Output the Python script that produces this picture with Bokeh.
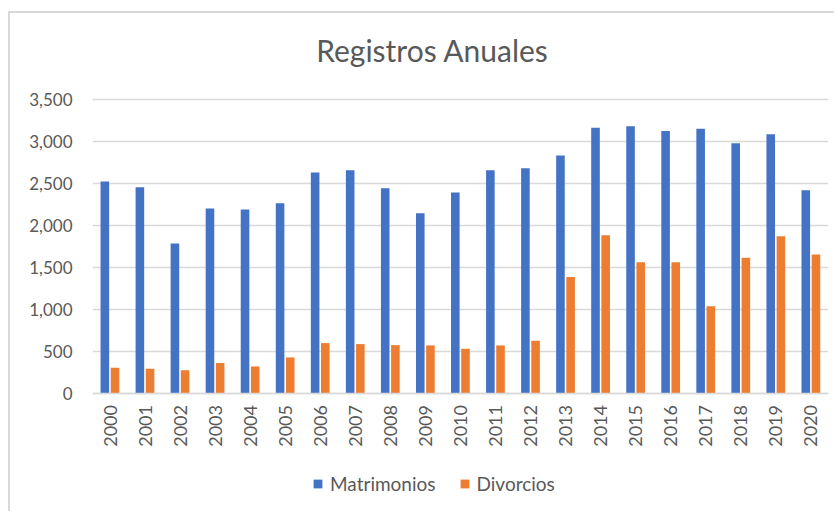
from bokeh.plotting import figure
from bokeh.models import (ColumnDataSource, FactorRange, Range1d, FixedTicker, CategoricalAxis,
                          NumeralTickFormatter, Legend, LegendItem, Label)
from bokeh.transform import dodge
from bokeh.embed import file_html
from bokeh.resources import INLINE
import math

years = [str(y) for y in range(2000, 2021)]
matrimonios = [2522, 2454, 1784, 2201, 2189, 2264, 2629, 2657, 2443, 2145, 2391,
               2657, 2680, 2831, 3164, 3180, 3124, 3152, 2978, 3085, 2419]
divorcios = [301, 289, 272, 357, 317, 424, 595, 583, 571, 568, 527,
             567, 623, 1384, 1880, 1558, 1558, 1035, 1614, 1868, 1653]
yticks = [0, 500, 1000, 1500, 2000, 2500, 3000, 3500]
series_names = ["Matrimonios", "Divorcios"]
title_text = "Registros Anuales"

BLUE = "#4472C4"
ORANGE = "#ED7D31"
GRID = "#D9D9D9"
TEXT = "#595959"
FONT = "Lato"

# geometry (pixels): the frame fills the whole height; 0..3500 spans 293.5 px
W, H = 826, 500
ABOVE_PX = 86          # space between frame top and the 3,500 gridline
VALUE_PX = 293.5
top_val = yticks[-1]
units_per_px = top_val / VALUE_PX
ymax = top_val + ABOVE_PX * units_per_px
ymin = top_val - (H - ABOVE_PX) * units_per_px

src = ColumnDataSource(dict(year=years, matrimonios=matrimonios, divorcios=divorcios))

p = figure(width=W, height=H, x_range=FactorRange(*years), y_range=Range1d(ymin, ymax),
           output_backend="svg", toolbar_location=None, x_axis_location=None,
           min_border_left=82, min_border_right=8, min_border_top=0, min_border_bottom=0)
p.styles = {"margin-left": "8px", "margin-top": "11px",
            "border-left": "2px solid #D9D9D9", "border-top": "2px solid #D9D9D9"}
p.outline_line_color = None
p.background_fill_color = "white"
p.border_fill_color = "white"

r1 = p.vbar(x=dodge("year", -0.148, range=p.x_range), top="matrimonios", width=0.245,
            source=src, fill_color=BLUE, line_color=None)
r2 = p.vbar(x=dodge("year", 0.142, range=p.x_range), top="divorcios", width=0.245,
            source=src, fill_color=ORANGE, line_color=None)

p.xgrid.grid_line_color = None
p.ygrid.grid_line_color = GRID
p.ygrid.grid_line_width = 1.5
p.yaxis.ticker = FixedTicker(ticks=yticks)
p.yaxis.formatter = NumeralTickFormatter(format="0,0")
p.ygrid.ticker = FixedTicker(ticks=yticks)

xaxis = CategoricalAxis(fixed_location=0)
p.add_layout(xaxis, "below")

for ax in (xaxis, p.yaxis[0]):
    ax.major_tick_line_color = None
    ax.minor_tick_line_color = None
    ax.major_tick_out = 0
    ax.major_tick_in = 0
    ax.major_label_text_font = FONT
    ax.major_label_text_color = TEXT
p.yaxis.major_label_text_font_size = "17px"
xaxis.major_label_text_font_size = "18px"
p.yaxis.axis_line_color = None
p.yaxis.major_label_standoff = 20
xaxis.axis_line_color = GRID
xaxis.axis_line_width = 1.5
xaxis.major_label_orientation = math.pi / 2
xaxis.major_label_standoff = 12

title = Label(x=340, y=464, x_units="screen", y_units="screen", text=title_text,
              text_font=FONT, text_font_size="30px", text_color=TEXT,
              text_align="center", text_baseline="alphabetic")
p.add_layout(title)

legend = Legend(items=[LegendItem(label=series_names[0], renderers=[r1]),
                       LegendItem(label=series_names[1], renderers=[r2])],
                orientation="horizontal", location=(220, 18),
                glyph_width=11, glyph_height=11, label_standoff=7, spacing=23,
                padding=0, margin=0, border_line_color=None, background_fill_alpha=0,
                label_text_font=FONT, label_text_font_size="19px", label_text_color=TEXT)
p.add_layout(legend)

open("out.html", "w").write(file_html(p, INLINE))
